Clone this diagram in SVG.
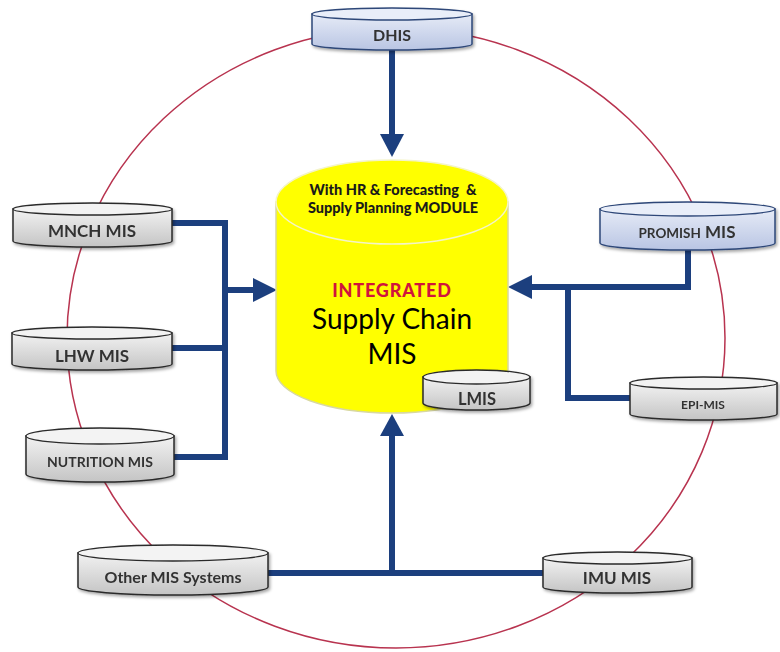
<svg xmlns="http://www.w3.org/2000/svg" width="780" height="652" viewBox="0 0 780 652">
<defs>
<linearGradient id="gGray" x1="0" y1="0" x2="0" y2="1">
<stop offset="0" stop-color="#f2f2f2"/><stop offset="1" stop-color="#c4c4c4"/>
</linearGradient>
<linearGradient id="gBlue" x1="0" y1="0" x2="0" y2="1">
<stop offset="0" stop-color="#e6ebf7"/><stop offset="1" stop-color="#b9c5e3"/>
</linearGradient>
<filter id="sh" x="-10%" y="-20%" width="130%" height="160%">
<feDropShadow dx="1.5" dy="2" stdDeviation="1.5" flood-color="#000" flood-opacity="0.35"/>
</filter>
</defs>
<style>
.ring{fill:none;stroke:#b8334f;stroke-width:1.5}
.gb{fill:url(#gGray);stroke:#2a2a2a;stroke-width:1.5}
.gt{fill:#f3f3f3;stroke:#2a2a2a;stroke-width:1.3}
.bb{fill:url(#gBlue);stroke:#2d4778;stroke-width:1.5}
.bt{fill:#e9eef9;stroke:#2d4778;stroke-width:1.3}
.lbl{font-family:Lato,"Open Sans","Liberation Sans",sans-serif;fill:#333;text-anchor:middle;font-weight:bold}
.con{fill:none;stroke:#1c3f7e;stroke-width:6}
.ah{fill:#1c3f7e}
.mt{font-family:Lato,"Liberation Sans",sans-serif;text-anchor:middle}
</style>
<ellipse class="ring" cx="396" cy="338" rx="329" ry="310"/>

<g id="connectors">
<path class="con" d="M172 223 H225 V457 H174 M172 348 H225 M225 290 H256"/>
<polygon class="ah" points="253,278 277,290 253,302"/>
<path class="con" d="M688 250 V287 H530 M568 287 V398 H630"/>
<polygon class="ah" points="532,275 508,287 532,299"/>
<path class="con" d="M268 573 H543 M392 573 V434"/>
<polygon class="ah" points="380,436 392,414 404,436"/>
<path class="con" d="M392 50 V136"/>
<polygon class="ah" points="380,134 392,157 404,134"/>
</g>

<g id="main">
<path d="M276 202 V371 A116 42 0 0 0 508 371 V202 Z" fill="#ffff00" stroke="#d8d8a0" stroke-width="1.5"/>
<ellipse cx="392" cy="202" rx="116" ry="42" fill="#ffff00" stroke="#f4f4c8" stroke-width="1.5"/>
<text class="mt" x="393" y="195" font-weight="900" font-size="14.5" fill="#1a1a1a" xml:space="preserve">With HR &amp; Forecasting  &amp;</text>
<text class="mt" x="393" y="213" font-weight="900" font-size="14.5" fill="#1a1a1a">Supply Planning MODULE</text>
<text class="mt" x="392" y="297" font-weight="900" font-size="18" letter-spacing="0.8" fill="#d0143c">INTEGRATED</text>
<text class="mt" x="392" y="329" font-size="28" fill="#000">Supply Chain</text>
<text class="mt" x="392" y="364" font-size="28" fill="#000">MIS</text>
</g>

<g id="dhis" filter="url(#sh)">
<path class="bb" d="M312 14 V44 A80 6 0 0 0 472 44 V14 Z"/>
<ellipse class="bt" cx="392" cy="14" rx="80" ry="6"/>
<text class="lbl" x="392" y="41" font-size="16">DHIS</text>
</g>

<g id="lmis" filter="url(#sh)">
<path class="gb" d="M423 377 V403 A53.5 7 0 0 0 530 403 V377 Z"/>
<ellipse class="gt" cx="476.5" cy="377" rx="53.5" ry="7"/>
<text class="lbl" x="477" y="405" font-size="16.5">LMIS</text>
</g>

<g id="mnch" filter="url(#sh)">
<path class="gb" d="M13 209 V241 A79.5 6 0 0 0 172 241 V209 Z"/>
<ellipse class="gt" cx="92.5" cy="209" rx="79.5" ry="6"/>
<text class="lbl" x="92" y="237" font-size="17">MNCH MIS</text>
</g>

<g id="lhw" filter="url(#sh)">
<path class="gb" d="M12 333 V364 A80 6 0 0 0 172 364 V333 Z"/>
<ellipse class="gt" cx="92" cy="333" rx="80" ry="6"/>
<text class="lbl" x="92" y="362" font-size="17">LHW MIS</text>
</g>

<g id="nutrition" filter="url(#sh)">
<path class="gb" d="M26 436 V474 A74 8 0 0 0 174 474 V436 Z"/>
<ellipse class="gt" cx="100" cy="436" rx="74" ry="8"/>
<text class="lbl" x="100" y="467" font-size="14">NUTRITION MIS</text>
</g>

<g id="promish" filter="url(#sh)">
<path class="bb" d="M600 209 V243 A87.5 7 0 0 0 775 243 V209 Z"/>
<ellipse class="bt" cx="687.5" cy="209" rx="87.5" ry="7"/>
<text class="lbl" x="687" y="238" font-size="17"><tspan font-size="13.5">PROMISH</tspan> MIS</text>
</g>

<g id="epi" filter="url(#sh)">
<path class="gb" d="M630 383 V414 A73.5 6 0 0 0 777 414 V383 Z"/>
<ellipse class="gt" cx="703.5" cy="383" rx="73.5" ry="6"/>
<text class="lbl" x="703" y="409" font-size="12">EPI-MIS</text>
</g>

<g id="other" filter="url(#sh)">
<path class="gb" d="M78 553 V587 A95 8 0 0 0 268 587 V553 Z"/>
<ellipse class="gt" cx="173" cy="553" rx="95" ry="8"/>
<text class="lbl" x="173" y="583" font-size="16">Other MIS Systems</text>
</g>

<g id="imu" filter="url(#sh)">
<path class="gb" d="M543 558 V587 A74.5 6 0 0 0 692 587 V558 Z"/>
<ellipse class="gt" cx="617.5" cy="558" rx="74.5" ry="6"/>
<text class="lbl" x="617" y="584" font-size="17">IMU MIS</text>
</g>
</svg>
